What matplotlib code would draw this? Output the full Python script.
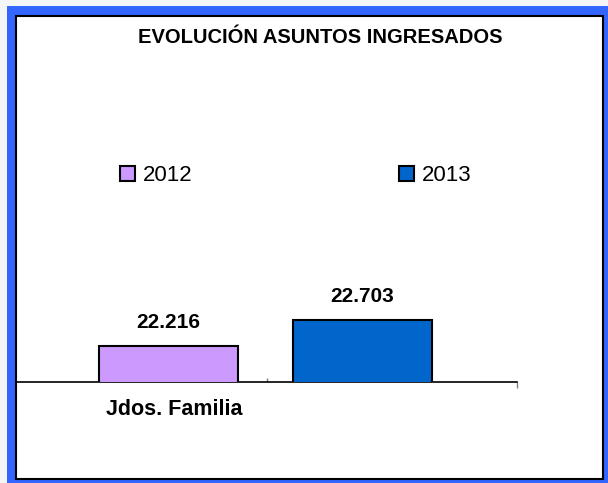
import matplotlib
matplotlib.use('Agg')
import matplotlib.pyplot as plt
from matplotlib.patches import Rectangle

plt.rcParams['font.family'] = ['Liberation Sans', 'DejaVu Sans']

# data
title = "EVOLUCIÓN ASUNTOS INGRESADOS"
category = "Jdos. Familia"
years = ["2012", "2013"]
values = [22216, 22703]
value_labels = ["22.216", "22.703"]
colors = ["#CC99FF", "#0066CC"]

W, H = 608, 483
fig = plt.figure(figsize=(W / 100, H / 100), dpi=100)
fig.patch.set_facecolor('#f4f5f7')

# blue frame + white panel with dark edge
fig.add_artist(Rectangle((7 / W, 0), 601 / W, 477 / H, transform=fig.transFigure,
                         facecolor='#3366FF', edgecolor='none', zorder=-2))
fig.add_artist(Rectangle((16 / W, 4 / H), 587 / W, 463 / H, transform=fig.transFigure,
                         facecolor='white', edgecolor='black', linewidth=1.5, zorder=-1))

# plot area: x axis line from px 17 to 517 at y=382
ax = fig.add_axes([17 / W, 1 - 382 / H, 500 / W, 122 / H])
ax.set_facecolor('none')
ax.set_zorder(2)

center = -0.004
offset = 0.194
width = 0.278
xs = [center - offset, center + offset]
bars = ax.bar(xs, values, width=width, color=colors, edgecolor='black',
              linewidth=1.5, label=years, zorder=3)

ax.set_xlim(-0.5, 0.5)
ax.set_ylim(21542, 21542 + 122 / 0.05339)

for b, lab in zip(bars, value_labels):
    ax.annotate(lab, (b.get_x() + b.get_width() / 2, b.get_height()),
                xytext=(0, 13), textcoords='offset points',
                ha='center', va='baseline', fontsize=15, fontweight='bold')

for side in ['top', 'right', 'left']:
    ax.spines[side].set_visible(False)
ax.spines['bottom'].set_linewidth(1.2)
ax.set_yticks([])
ax.set_xticks([0])
ax.set_xticklabels([''])
ax.set_xticks([0.5], minor=True)
ax.tick_params(axis='x', which='major', direction='in', length=3, width=1, color='#808080')
ax.tick_params(axis='x', which='minor', direction='out', length=4.5, width=1, color='#808080')

# category label (sits under the first bar)
ax.annotate(category, xy=(-0.186, 0), xycoords=('data', 'axes fraction'),
            xytext=(0, -19.5), textcoords='offset points',
            ha='center', va='center', fontsize=15.5, fontweight='bold')

fig.text(320 / W, 1 - 43 / H, title, ha='center', va='baseline',
         fontsize=14.5, fontweight='bold')

fig.legend(handles=list(bars), labels=years, ncol=2, frameon=False,
           loc='center left', bbox_to_anchor=(120 / W, 1 - 175.5 / H),
           fontsize=16, handlelength=0.68, handleheight=0.68,
           handletextpad=0.35, columnspacing=9.3, borderpad=0, borderaxespad=0)

fig.savefig('out.png', dpi=100)
